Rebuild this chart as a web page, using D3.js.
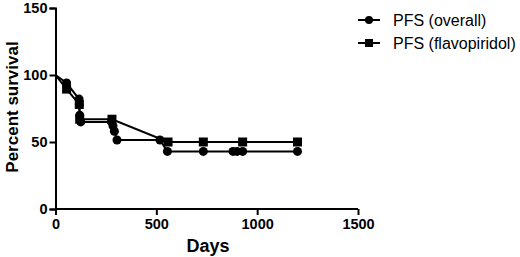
<!DOCTYPE html>
<html><head><meta charset="utf-8">
<script src="https://cdn.jsdelivr.net/npm/d3@7"></script>
<style>body{margin:0;background:#fff;}svg{display:block;font-family:"Liberation Sans",Arial,sans-serif;}</style>
</head><body>
<script>
const overallDays = [0, 55, 117, 118, 120, 125, 278, 285, 292, 305, 518, 555, 733, 880, 900, 928, 1200];
const overallPct  = [100, 94, 82, 78, 70, 65, 65, 62, 58, 51.5, 51.5, 43, 43, 43, 43, 43, 43];
const flavoDays = [0, 55, 118, 120, 280, 558, 733, 928, 1200];
const flavoPct  = [100, 89.5, 78, 67, 67, 50, 50, 50, 50];
const xTicks = [0, 500, 1000, 1500];
const yTicks = [0, 50, 100, 150];
const seriesNames = ["PFS (overall)", "PFS (flavopiridol)"];

const W = 520, H = 257;
const svg = d3.select("body").append("svg").attr("width", W).attr("height", H);
const x = d3.scaleLinear().domain([0, 1500]).range([55.5, 358]);
const y = d3.scaleLinear().domain([0, 150]).range([209, 8]);

const xa = svg.append("g").attr("transform", "translate(0,209)")
  .call(d3.axisBottom(x).tickValues(xTicks).tickSize(6).tickPadding(4).tickFormat(d3.format("d")));
const ya = svg.append("g").attr("transform", "translate(55.5,0)")
  .call(d3.axisLeft(y).tickValues(yTicks).tickSize(6).tickPadding(2).tickFormat(d3.format("d")));
[xa, ya].forEach(a => {
  a.selectAll("path").attr("stroke", "#000").attr("stroke-width", 2);
  a.selectAll("line").attr("stroke", "#000").attr("stroke-width", 2);
  a.selectAll("text").attr("fill", "#000").style("font-size", "14.5px").style("font-weight", "bold")
    .style("font-family", "'Liberation Sans', Arial, sans-serif");
});
xa.selectAll(".domain").attr("d", "M55.5,0H358");
xa.selectAll(".tick line").attr("y1", 0);

svg.append("text").attr("x", 208).attr("y", 252).attr("text-anchor", "middle")
  .style("font-size", "18px").style("font-weight", "bold").text("Days");
svg.append("text").attr("transform", "translate(18,107) rotate(-90)").attr("text-anchor", "middle")
  .style("font-size", "17px").style("font-weight", "bold").text("Percent survival");

const line = d3.line().x(d => x(d[0])).y(d => y(d[1]));
const overall = overallDays.map((d, i) => [d, overallPct[i]]);
const flavo = flavoDays.map((d, i) => [d, flavoPct[i]]);

svg.append("path").datum(flavo).attr("d", line).attr("fill", "none").attr("stroke", "#000").attr("stroke-width", 2);
svg.append("path").datum(overall).attr("d", line).attr("fill", "none").attr("stroke", "#000").attr("stroke-width", 2);

svg.selectAll(".sq").data(flavo.slice(1)).enter().append("rect")
  .attr("x", d => x(d[0]) - 4.5).attr("y", d => y(d[1]) - 4.5).attr("width", 9).attr("height", 9).attr("fill", "#000");
svg.selectAll(".ci").data(overall.slice(1)).enter().append("circle")
  .attr("cx", d => x(d[0])).attr("cy", d => y(d[1])).attr("r", 4.5).attr("fill", "#000");

// legend
const lg = svg.append("g");
[0, 1].forEach(i => {
  const yy = 20 + i * 23;
  lg.append("line").attr("x1", 358).attr("x2", 380).attr("y1", yy).attr("y2", yy).attr("stroke", "#000").attr("stroke-width", 2);
  if (i === 0) lg.append("circle").attr("cx", 369).attr("cy", yy).attr("r", 4).attr("fill", "#000");
  else lg.append("rect").attr("x", 365).attr("y", yy - 4).attr("width", 8).attr("height", 8).attr("fill", "#000");
  lg.append("text").attr("x", 393).attr("y", yy + 6).style("font-size", "16px").attr("fill", "#000").text(seriesNames[i]);
});
</script>
</body></html>
